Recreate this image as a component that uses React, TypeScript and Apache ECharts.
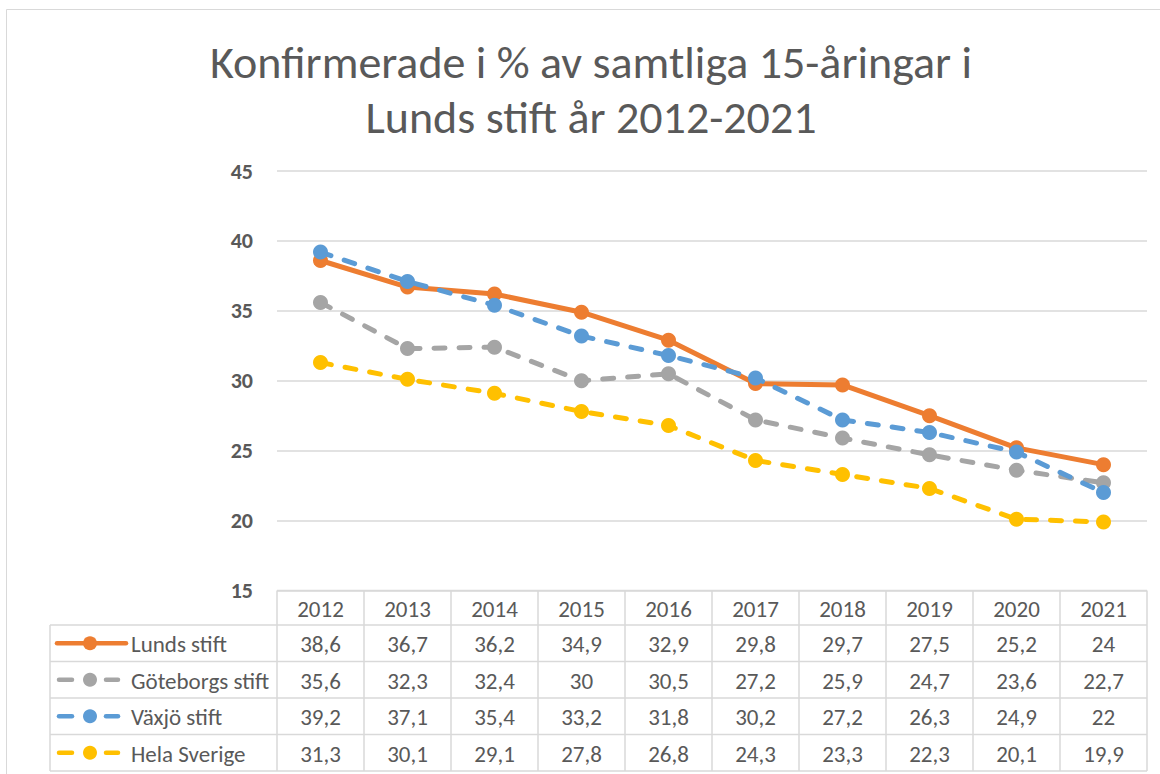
import React, { useEffect, useRef } from "react";
import * as echarts from "echarts";

const titleLines = ["Konfirmerade i % av samtliga 15-åringar i", "Lunds stift år 2012-2021"];
const years = ["2012", "2013", "2014", "2015", "2016", "2017", "2018", "2019", "2020", "2021"];
const seriesNames = ["Lunds stift", "Göteborgs stift", "Växjö stift", "Hela Sverige"];
const lunds = [38.6, 36.7, 36.2, 34.9, 32.9, 29.8, 29.7, 27.5, 25.2, 24];
const goteborg = [35.6, 32.3, 32.4, 30, 30.5, 27.2, 25.9, 24.7, 23.6, 22.7];
const vaxjo = [39.2, 37.1, 35.4, 33.2, 31.8, 30.2, 27.2, 26.3, 24.9, 22];
const sverige = [31.3, 30.1, 29.1, 27.8, 26.8, 24.3, 23.3, 22.3, 20.1, 19.9];
const yMin = 15;
const yMax = 45;
const yInterval = 5;
const colors = ["#ED7D31", "#A5A5A5", "#5B9BD5", "#FFC000"];
const dashed = [false, true, true, true];

const FONT = "Carlito, Calibri, 'Liberation Sans', Arial, sans-serif";
const TEXT = "#595959";
const BORDER = "#d9d9d9";

export default function App() {
  const ref = useRef<HTMLDivElement>(null);
  useEffect(() => {
    if (!ref.current) return;
    const chart = echarts.init(ref.current, undefined, { renderer: "svg" });
    const allData = [lunds, goteborg, vaxjo, sverige];

    const gridLeft = 277;
    const gridRightX = 1147;
    const gridTop = 171;
    const gridBottomY = 590.5;
    const colW = (gridRightX - gridLeft) / years.length;
    const headerBottom = 625;
    const rowH = 36.5;
    const legendLeft = 50;

    const graphics: any[] = [];
    graphics.push({
      type: "rect",
      shape: { x: 6.5, y: 9.5, width: 1170, height: 800 },
      style: { fill: "none", stroke: BORDER, lineWidth: 1 },
      silent: true,
    });
    titleLines.forEach((t, i) => {
      graphics.push({
        type: "text",
        x: 591,
        y: 62 + i * 55,
        style: {
          text: t,
          fill: TEXT,
          font: `300 46px ${FONT}`,
          align: "center",
          verticalAlign: "middle",
        },
      });
    });
    graphics.push({
      type: "line",
      shape: { x1: gridLeft, y1: gridBottomY, x2: gridRightX, y2: gridBottomY },
      style: { stroke: BORDER, lineWidth: 1.5 },
    });
    for (let r = 0; r <= seriesNames.length; r++) {
      const y = headerBottom + r * rowH;
      graphics.push({
        type: "line",
        shape: { x1: legendLeft, y1: y, x2: gridRightX, y2: y },
        style: { stroke: BORDER, lineWidth: 1.5 },
      });
    }
    const tableBottom = headerBottom + seriesNames.length * rowH;
    graphics.push({
      type: "line",
      shape: { x1: legendLeft, y1: headerBottom, x2: legendLeft, y2: tableBottom },
      style: { stroke: BORDER, lineWidth: 1.5 },
    });
    for (let c = 0; c <= years.length; c++) {
      const x = gridLeft + c * colW;
      graphics.push({
        type: "line",
        shape: { x1: x, y1: gridBottomY, x2: x, y2: tableBottom },
        style: { stroke: BORDER, lineWidth: 1.5 },
      });
    }
    years.forEach((yr, c) => {
      graphics.push({
        type: "text",
        x: gridLeft + (c + 0.5) * colW,
        y: (gridBottomY + headerBottom) / 2 + 1,
        style: { text: yr, fill: TEXT, font: `23px ${FONT}`, align: "center", verticalAlign: "middle" },
      });
    });
    seriesNames.forEach((name, r) => {
      const cy = headerBottom + (r + 0.5) * rowH + 1;
      const col = colors[r];
      if (!dashed[r]) {
        graphics.push({
          type: "line",
          shape: { x1: 57, y1: cy - 1, x2: 126, y2: cy - 1 },
          style: { stroke: col, lineWidth: 4.5, lineCap: "round" },
        });
      } else {
        graphics.push({
          type: "line",
          shape: { x1: 59, y1: cy - 1, x2: 72, y2: cy - 1 },
          style: { stroke: col, lineWidth: 4.5, lineCap: "round" },
        });
        graphics.push({
          type: "line",
          shape: { x1: 106, y1: cy - 1, x2: 118, y2: cy - 1 },
          style: { stroke: col, lineWidth: 4.5, lineCap: "round" },
        });
      }
      graphics.push({
        type: "circle",
        shape: { cx: 90, cy: cy - 1, r: 7 },
        style: { fill: col },
      });
      graphics.push({
        type: "text",
        x: 131,
        y: cy,
        style: { text: name, fill: TEXT, font: `23px ${FONT}`, align: "left", verticalAlign: "middle" },
      });
      allData[r].forEach((v, c) => {
        graphics.push({
          type: "text",
          x: gridLeft + (c + 0.5) * colW,
          y: cy,
          style: {
            text: String(v).replace(".", ","),
            fill: TEXT,
            font: `23px ${FONT}`,
            align: "center",
            verticalAlign: "middle",
          },
        });
      });
    });

    chart.setOption({
      animation: false,
      backgroundColor: "#ffffff",
      grid: {
        left: gridLeft,
        top: gridTop,
        width: gridRightX - gridLeft,
        height: gridBottomY - gridTop,
        containLabel: false,
      },
      xAxis: {
        type: "category",
        data: years,
        boundaryGap: true,
        axisLine: { show: false },
        axisTick: { show: false },
        axisLabel: { show: false },
        splitLine: { show: false },
      },
      yAxis: {
        type: "value",
        min: yMin,
        max: yMax,
        interval: yInterval,
        axisLine: { show: false },
        axisTick: { show: false },
        axisLabel: {
          color: TEXT,
          fontWeight: "bold",
          fontSize: 22,
          fontFamily: FONT,
          margin: 24,
        },
        splitLine: { lineStyle: { color: BORDER, width: 1.5 } },
      },
      series: seriesNames.map((name, i) => ({
        name,
        type: "line",
        data: allData[i],
        symbol: "circle",
        symbolSize: 15,
        itemStyle: { color: colors[i] },
        lineStyle: {
          color: colors[i],
          width: 5,
          type: dashed[i] ? [11, 14] : "solid",
          cap: "round",
          join: "round",
        },
        z: 2 + i,
      })),
      graphic: graphics,
    });
    return () => chart.dispose();
  }, []);
  return (
    <div
      ref={ref}
      style={{ position: "absolute", left: 0, top: 0, width: 1160, height: 774 }}
    />
  );
}
